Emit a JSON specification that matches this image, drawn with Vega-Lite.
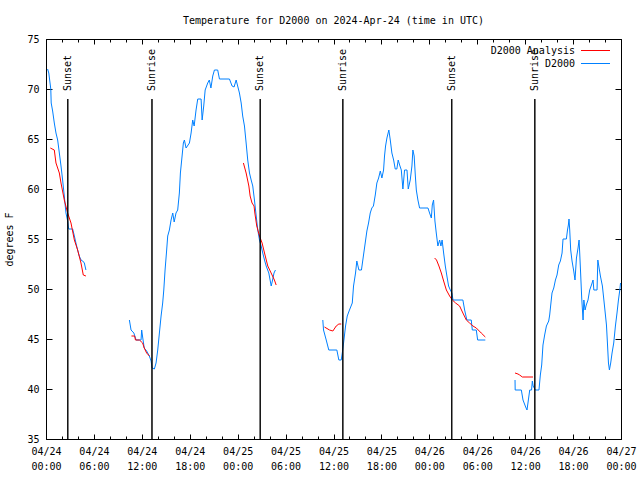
{
 "$schema": "https://vega.github.io/schema/vega-lite/v6.json",
 "width": 575, "height": 400,
 "autosize": {"type": "none"},
 "padding": {"left": 46, "top": 39, "right": 19, "bottom": 41},
 "background": "white",
 "title": {"text": "Temperature for D2000 on 2024-Apr-24 (time in UTC)", "font": "DejaVu Sans Mono", "fontSize": 10, "fontWeight": "normal", "offset": 8, "anchor": "middle", "color": "#000"},
 "config": {
  "view": {"stroke": "#000", "strokeWidth": 1},
  "font": "DejaVu Sans Mono",
  "axis": {"labelFont": "DejaVu Sans Mono", "labelFontSize": 10, "labelColor": "#000", "tickColor": "#000", "titleFont": "DejaVu Sans Mono", "titleFontSize": 10, "titleFontWeight": "normal", "titleColor": "#000", "domain": false, "grid": false, "labelFlush": false, "labelOverlap": false},
  "legend": {"labelFont": "DejaVu Sans Mono", "labelFontSize": 10, "labelColor": "#000"}
 },
 "datasets": {
  "sun": [
   {"hour": 2.73, "event": "Sunset"},
   {"hour": 13.27, "event": "Sunrise"},
   {"hour": 26.82, "event": "Sunset"},
   {"hour": 37.17, "event": "Sunrise"},
   {"hour": 50.81, "event": "Sunset"},
   {"hour": 61.21, "event": "Sunrise"}
  ],
  "temps": [
   {"hour": 0.2, "temp": 72.0, "series": "D2000", "seg": "b1"},
   {"hour": 0.35, "temp": 71.6, "series": "D2000", "seg": "b1"},
   {"hour": 0.6, "temp": 70.0, "series": "D2000", "seg": "b1"},
   {"hour": 0.65, "temp": 68.6, "series": "D2000", "seg": "b1"},
   {"hour": 0.83, "temp": 67.8, "series": "D2000", "seg": "b1"},
   {"hour": 1.04, "temp": 66.6, "series": "D2000", "seg": "b1"},
   {"hour": 1.25, "temp": 65.6, "series": "D2000", "seg": "b1"},
   {"hour": 1.46, "temp": 64.9, "series": "D2000", "seg": "b1"},
   {"hour": 1.67, "temp": 63.6, "series": "D2000", "seg": "b1"},
   {"hour": 1.88, "temp": 62.3, "series": "D2000", "seg": "b1"},
   {"hour": 2.08, "temp": 60.9, "series": "D2000", "seg": "b1"},
   {"hour": 2.29, "temp": 59.3, "series": "D2000", "seg": "b1"},
   {"hour": 2.5, "temp": 57.6, "series": "D2000", "seg": "b1"},
   {"hour": 2.71, "temp": 56.8, "series": "D2000", "seg": "b1"},
   {"hour": 2.84, "temp": 56.0, "series": "D2000", "seg": "b1"},
   {"hour": 3.34, "temp": 56.0, "series": "D2000", "seg": "b1"},
   {"hour": 3.55, "temp": 55.3, "series": "D2000", "seg": "b1"},
   {"hour": 3.75, "temp": 54.6, "series": "D2000", "seg": "b1"},
   {"hour": 3.96, "temp": 53.9, "series": "D2000", "seg": "b1"},
   {"hour": 4.17, "temp": 53.3, "series": "D2000", "seg": "b1"},
   {"hour": 4.38, "temp": 52.9, "series": "D2000", "seg": "b1"},
   {"hour": 4.6, "temp": 52.8, "series": "D2000", "seg": "b1"},
   {"hour": 4.8, "temp": 52.6, "series": "D2000", "seg": "b1"},
   {"hour": 5.0, "temp": 51.9, "series": "D2000", "seg": "b1"},
   {"hour": 0.54, "temp": 64.1, "series": "D2000 Analysis", "seg": "r1"},
   {"hour": 1.04, "temp": 63.9, "series": "D2000 Analysis", "seg": "r1"},
   {"hour": 1.25, "temp": 62.6, "series": "D2000 Analysis", "seg": "r1"},
   {"hour": 1.67, "temp": 61.6, "series": "D2000 Analysis", "seg": "r1"},
   {"hour": 1.88, "temp": 60.6, "series": "D2000 Analysis", "seg": "r1"},
   {"hour": 2.29, "temp": 58.9, "series": "D2000 Analysis", "seg": "r1"},
   {"hour": 2.71, "temp": 57.6, "series": "D2000 Analysis", "seg": "r1"},
   {"hour": 3.13, "temp": 56.6, "series": "D2000 Analysis", "seg": "r1"},
   {"hour": 3.55, "temp": 54.9, "series": "D2000 Analysis", "seg": "r1"},
   {"hour": 3.96, "temp": 53.9, "series": "D2000 Analysis", "seg": "r1"},
   {"hour": 4.38, "temp": 52.6, "series": "D2000 Analysis", "seg": "r1"},
   {"hour": 4.67, "temp": 51.4, "series": "D2000 Analysis", "seg": "r1"},
   {"hour": 5.0, "temp": 51.3, "series": "D2000 Analysis", "seg": "r1"},
   {"hour": 10.44, "temp": 46.9, "series": "D2000", "seg": "b2"},
   {"hour": 10.65, "temp": 45.9, "series": "D2000", "seg": "b2"},
   {"hour": 11.0, "temp": 45.6, "series": "D2000", "seg": "b2"},
   {"hour": 11.28, "temp": 44.9, "series": "D2000", "seg": "b2"},
   {"hour": 11.9, "temp": 44.9, "series": "D2000", "seg": "b2"},
   {"hour": 11.98, "temp": 45.9, "series": "D2000", "seg": "b2"},
   {"hour": 12.1, "temp": 45.2, "series": "D2000", "seg": "b2"},
   {"hour": 12.3, "temp": 44.1, "series": "D2000", "seg": "b2"},
   {"hour": 12.6, "temp": 43.8, "series": "D2000", "seg": "b2"},
   {"hour": 12.94, "temp": 43.3, "series": "D2000", "seg": "b2"},
   {"hour": 13.16, "temp": 42.8, "series": "D2000", "seg": "b2"},
   {"hour": 13.28, "temp": 42.1, "series": "D2000", "seg": "b2"},
   {"hour": 13.57, "temp": 42.0, "series": "D2000", "seg": "b2"},
   {"hour": 13.78, "temp": 42.6, "series": "D2000", "seg": "b2"},
   {"hour": 13.99, "temp": 43.9, "series": "D2000", "seg": "b2"},
   {"hour": 14.2, "temp": 45.6, "series": "D2000", "seg": "b2"},
   {"hour": 14.41, "temp": 47.3, "series": "D2000", "seg": "b2"},
   {"hour": 14.61, "temp": 48.6, "series": "D2000", "seg": "b2"},
   {"hour": 14.75, "temp": 49.9, "series": "D2000", "seg": "b2"},
   {"hour": 14.91, "temp": 51.9, "series": "D2000", "seg": "b2"},
   {"hour": 15.11, "temp": 53.9, "series": "D2000", "seg": "b2"},
   {"hour": 15.24, "temp": 55.3, "series": "D2000", "seg": "b2"},
   {"hour": 15.45, "temp": 55.9, "series": "D2000", "seg": "b2"},
   {"hour": 15.66, "temp": 56.9, "series": "D2000", "seg": "b2"},
   {"hour": 15.87, "temp": 57.6, "series": "D2000", "seg": "b2"},
   {"hour": 16.05, "temp": 56.7, "series": "D2000", "seg": "b2"},
   {"hour": 16.28, "temp": 57.6, "series": "D2000", "seg": "b2"},
   {"hour": 16.49, "temp": 57.9, "series": "D2000", "seg": "b2"},
   {"hour": 16.7, "temp": 59.6, "series": "D2000", "seg": "b2"},
   {"hour": 16.83, "temp": 61.6, "series": "D2000", "seg": "b2"},
   {"hour": 17.04, "temp": 63.3, "series": "D2000", "seg": "b2"},
   {"hour": 17.2, "temp": 64.6, "series": "D2000", "seg": "b2"},
   {"hour": 17.33, "temp": 64.9, "series": "D2000", "seg": "b2"},
   {"hour": 17.54, "temp": 64.1, "series": "D2000", "seg": "b2"},
   {"hour": 17.96, "temp": 64.6, "series": "D2000", "seg": "b2"},
   {"hour": 18.17, "temp": 65.6, "series": "D2000", "seg": "b2"},
   {"hour": 18.37, "temp": 66.9, "series": "D2000", "seg": "b2"},
   {"hour": 18.55, "temp": 66.3, "series": "D2000", "seg": "b2"},
   {"hour": 18.79, "temp": 67.9, "series": "D2000", "seg": "b2"},
   {"hour": 19.0, "temp": 69.0, "series": "D2000", "seg": "b2"},
   {"hour": 19.42, "temp": 69.0, "series": "D2000", "seg": "b2"},
   {"hour": 19.55, "temp": 66.9, "series": "D2000", "seg": "b2"},
   {"hour": 19.75, "temp": 68.3, "series": "D2000", "seg": "b2"},
   {"hour": 19.93, "temp": 69.9, "series": "D2000", "seg": "b2"},
   {"hour": 20.25, "temp": 70.6, "series": "D2000", "seg": "b2"},
   {"hour": 20.45, "temp": 70.9, "series": "D2000", "seg": "b2"},
   {"hour": 20.65, "temp": 70.1, "series": "D2000", "seg": "b2"},
   {"hour": 20.88, "temp": 71.3, "series": "D2000", "seg": "b2"},
   {"hour": 21.09, "temp": 71.9, "series": "D2000", "seg": "b2"},
   {"hour": 21.5, "temp": 71.9, "series": "D2000", "seg": "b2"},
   {"hour": 21.72, "temp": 71.0, "series": "D2000", "seg": "b2"},
   {"hour": 22.97, "temp": 71.0, "series": "D2000", "seg": "b2"},
   {"hour": 23.3, "temp": 70.3, "series": "D2000", "seg": "b2"},
   {"hour": 23.55, "temp": 70.2, "series": "D2000", "seg": "b2"},
   {"hour": 23.81, "temp": 70.9, "series": "D2000", "seg": "b2"},
   {"hour": 24.0, "temp": 70.3, "series": "D2000", "seg": "b2"},
   {"hour": 24.22, "temp": 69.6, "series": "D2000", "seg": "b2"},
   {"hour": 24.44, "temp": 68.6, "series": "D2000", "seg": "b2"},
   {"hour": 24.63, "temp": 67.3, "series": "D2000", "seg": "b2"},
   {"hour": 24.85, "temp": 66.3, "series": "D2000", "seg": "b2"},
   {"hour": 25.06, "temp": 64.6, "series": "D2000", "seg": "b2"},
   {"hour": 25.26, "temp": 62.9, "series": "D2000", "seg": "b2"},
   {"hour": 25.48, "temp": 61.6, "series": "D2000", "seg": "b2"},
   {"hour": 25.69, "temp": 60.9, "series": "D2000", "seg": "b2"},
   {"hour": 25.89, "temp": 60.3, "series": "D2000", "seg": "b2"},
   {"hour": 26.1, "temp": 58.9, "series": "D2000", "seg": "b2"},
   {"hour": 26.32, "temp": 57.3, "series": "D2000", "seg": "b2"},
   {"hour": 26.52, "temp": 55.9, "series": "D2000", "seg": "b2"},
   {"hour": 26.73, "temp": 54.9, "series": "D2000", "seg": "b2"},
   {"hour": 26.94, "temp": 54.3, "series": "D2000", "seg": "b2"},
   {"hour": 27.14, "temp": 53.6, "series": "D2000", "seg": "b2"},
   {"hour": 27.36, "temp": 52.9, "series": "D2000", "seg": "b2"},
   {"hour": 27.57, "temp": 52.3, "series": "D2000", "seg": "b2"},
   {"hour": 27.9, "temp": 51.6, "series": "D2000", "seg": "b2"},
   {"hour": 28.2, "temp": 50.3, "series": "D2000", "seg": "b2"},
   {"hour": 28.4, "temp": 51.0, "series": "D2000", "seg": "b2"},
   {"hour": 28.55, "temp": 51.6, "series": "D2000", "seg": "b2"},
   {"hour": 28.73, "temp": 51.9, "series": "D2000", "seg": "b2"},
   {"hour": 10.7, "temp": 45.3, "series": "D2000 Analysis", "seg": "r2"},
   {"hour": 11.1, "temp": 45.3, "series": "D2000 Analysis", "seg": "r2"},
   {"hour": 11.2, "temp": 44.9, "series": "D2000 Analysis", "seg": "r2"},
   {"hour": 11.7, "temp": 44.9, "series": "D2000 Analysis", "seg": "r2"},
   {"hour": 12.1, "temp": 44.6, "series": "D2000 Analysis", "seg": "r2"},
   {"hour": 12.3, "temp": 44.1, "series": "D2000 Analysis", "seg": "r2"},
   {"hour": 12.6, "temp": 43.6, "series": "D2000 Analysis", "seg": "r2"},
   {"hour": 12.95, "temp": 43.3, "series": "D2000 Analysis", "seg": "r2"},
   {"hour": 24.72, "temp": 62.6, "series": "D2000 Analysis", "seg": "r3"},
   {"hour": 25.06, "temp": 61.6, "series": "D2000 Analysis", "seg": "r3"},
   {"hour": 25.4, "temp": 60.3, "series": "D2000 Analysis", "seg": "r3"},
   {"hour": 25.56, "temp": 59.3, "series": "D2000 Analysis", "seg": "r3"},
   {"hour": 25.8, "temp": 58.6, "series": "D2000 Analysis", "seg": "r3"},
   {"hour": 26.05, "temp": 58.3, "series": "D2000 Analysis", "seg": "r3"},
   {"hour": 26.15, "temp": 57.6, "series": "D2000 Analysis", "seg": "r3"},
   {"hour": 26.39, "temp": 56.3, "series": "D2000 Analysis", "seg": "r3"},
   {"hour": 26.73, "temp": 55.3, "series": "D2000 Analysis", "seg": "r3"},
   {"hour": 27.06, "temp": 54.6, "series": "D2000 Analysis", "seg": "r3"},
   {"hour": 27.36, "temp": 53.6, "series": "D2000 Analysis", "seg": "r3"},
   {"hour": 27.77, "temp": 52.3, "series": "D2000 Analysis", "seg": "r3"},
   {"hour": 28.19, "temp": 51.6, "series": "D2000 Analysis", "seg": "r3"},
   {"hour": 28.6, "temp": 50.9, "series": "D2000 Analysis", "seg": "r3"},
   {"hour": 28.82, "temp": 50.4, "series": "D2000 Analysis", "seg": "r3"},
   {"hour": 34.66, "temp": 46.9, "series": "D2000", "seg": "b3"},
   {"hour": 34.75, "temp": 45.9, "series": "D2000", "seg": "b3"},
   {"hour": 35.09, "temp": 44.9, "series": "D2000", "seg": "b3"},
   {"hour": 35.41, "temp": 43.9, "series": "D2000", "seg": "b3"},
   {"hour": 36.42, "temp": 43.9, "series": "D2000", "seg": "b3"},
   {"hour": 36.67, "temp": 42.9, "series": "D2000", "seg": "b3"},
   {"hour": 36.97, "temp": 42.9, "series": "D2000", "seg": "b3"},
   {"hour": 37.1, "temp": 43.6, "series": "D2000", "seg": "b3"},
   {"hour": 37.26, "temp": 44.6, "series": "D2000", "seg": "b3"},
   {"hour": 37.51, "temp": 46.3, "series": "D2000", "seg": "b3"},
   {"hour": 37.72, "temp": 47.3, "series": "D2000", "seg": "b3"},
   {"hour": 38.0, "temp": 47.9, "series": "D2000", "seg": "b3"},
   {"hour": 38.35, "temp": 48.6, "series": "D2000", "seg": "b3"},
   {"hour": 38.51, "temp": 50.3, "series": "D2000", "seg": "b3"},
   {"hour": 38.76, "temp": 51.6, "series": "D2000", "seg": "b3"},
   {"hour": 38.92, "temp": 52.8, "series": "D2000", "seg": "b3"},
   {"hour": 39.18, "temp": 51.9, "series": "D2000", "seg": "b3"},
   {"hour": 39.5, "temp": 51.9, "series": "D2000", "seg": "b3"},
   {"hour": 39.76, "temp": 53.4, "series": "D2000", "seg": "b3"},
   {"hour": 39.97, "temp": 54.6, "series": "D2000", "seg": "b3"},
   {"hour": 40.18, "temp": 55.8, "series": "D2000", "seg": "b3"},
   {"hour": 40.39, "temp": 56.6, "series": "D2000", "seg": "b3"},
   {"hour": 40.6, "temp": 57.6, "series": "D2000", "seg": "b3"},
   {"hour": 40.8, "temp": 58.1, "series": "D2000", "seg": "b3"},
   {"hour": 41.0, "temp": 58.3, "series": "D2000", "seg": "b3"},
   {"hour": 41.23, "temp": 59.4, "series": "D2000", "seg": "b3"},
   {"hour": 41.43, "temp": 60.6, "series": "D2000", "seg": "b3"},
   {"hour": 41.65, "temp": 61.1, "series": "D2000", "seg": "b3"},
   {"hour": 41.86, "temp": 61.8, "series": "D2000", "seg": "b3"},
   {"hour": 42.06, "temp": 61.1, "series": "D2000", "seg": "b3"},
   {"hour": 42.27, "temp": 61.9, "series": "D2000", "seg": "b3"},
   {"hour": 42.39, "temp": 63.3, "series": "D2000", "seg": "b3"},
   {"hour": 42.52, "temp": 64.3, "series": "D2000", "seg": "b3"},
   {"hour": 42.69, "temp": 65.1, "series": "D2000", "seg": "b3"},
   {"hour": 42.93, "temp": 65.9, "series": "D2000", "seg": "b3"},
   {"hour": 43.11, "temp": 64.9, "series": "D2000", "seg": "b3"},
   {"hour": 43.31, "temp": 63.6, "series": "D2000", "seg": "b3"},
   {"hour": 43.53, "temp": 62.9, "series": "D2000", "seg": "b3"},
   {"hour": 43.73, "temp": 62.0, "series": "D2000", "seg": "b3"},
   {"hour": 43.93, "temp": 62.0, "series": "D2000", "seg": "b3"},
   {"hour": 44.1, "temp": 62.9, "series": "D2000", "seg": "b3"},
   {"hour": 44.28, "temp": 62.4, "series": "D2000", "seg": "b3"},
   {"hour": 44.49, "temp": 61.9, "series": "D2000", "seg": "b3"},
   {"hour": 44.69, "temp": 60.0, "series": "D2000", "seg": "b3"},
   {"hour": 44.9, "temp": 61.9, "series": "D2000", "seg": "b3"},
   {"hour": 45.2, "temp": 61.9, "series": "D2000", "seg": "b3"},
   {"hour": 45.36, "temp": 60.0, "series": "D2000", "seg": "b3"},
   {"hour": 45.61, "temp": 60.9, "series": "D2000", "seg": "b3"},
   {"hour": 45.82, "temp": 62.3, "series": "D2000", "seg": "b3"},
   {"hour": 45.94, "temp": 63.9, "series": "D2000", "seg": "b3"},
   {"hour": 46.1, "temp": 63.3, "series": "D2000", "seg": "b3"},
   {"hour": 46.25, "temp": 61.3, "series": "D2000", "seg": "b3"},
   {"hour": 46.37, "temp": 59.9, "series": "D2000", "seg": "b3"},
   {"hour": 46.57, "temp": 58.9, "series": "D2000", "seg": "b3"},
   {"hour": 46.78, "temp": 58.1, "series": "D2000", "seg": "b3"},
   {"hour": 47.83, "temp": 58.1, "series": "D2000", "seg": "b3"},
   {"hour": 48.03, "temp": 57.6, "series": "D2000", "seg": "b3"},
   {"hour": 48.25, "temp": 57.1, "series": "D2000", "seg": "b3"},
   {"hour": 48.37, "temp": 58.4, "series": "D2000", "seg": "b3"},
   {"hour": 48.53, "temp": 58.9, "series": "D2000", "seg": "b3"},
   {"hour": 48.7, "temp": 56.8, "series": "D2000", "seg": "b3"},
   {"hour": 48.87, "temp": 55.6, "series": "D2000", "seg": "b3"},
   {"hour": 49.07, "temp": 54.3, "series": "D2000", "seg": "b3"},
   {"hour": 49.29, "temp": 54.9, "series": "D2000", "seg": "b3"},
   {"hour": 49.45, "temp": 54.3, "series": "D2000", "seg": "b3"},
   {"hour": 49.6, "temp": 54.9, "series": "D2000", "seg": "b3"},
   {"hour": 49.79, "temp": 53.6, "series": "D2000", "seg": "b3"},
   {"hour": 50.0, "temp": 52.3, "series": "D2000", "seg": "b3"},
   {"hour": 50.2, "temp": 51.3, "series": "D2000", "seg": "b3"},
   {"hour": 50.41, "temp": 50.3, "series": "D2000", "seg": "b3"},
   {"hour": 50.63, "temp": 49.9, "series": "D2000", "seg": "b3"},
   {"hour": 50.83, "temp": 49.6, "series": "D2000", "seg": "b3"},
   {"hour": 50.96, "temp": 48.9, "series": "D2000", "seg": "b3"},
   {"hour": 52.2, "temp": 48.9, "series": "D2000", "seg": "b3"},
   {"hour": 52.42, "temp": 47.9, "series": "D2000", "seg": "b3"},
   {"hour": 52.7, "temp": 46.9, "series": "D2000", "seg": "b3"},
   {"hour": 53.25, "temp": 46.9, "series": "D2000", "seg": "b3"},
   {"hour": 53.38, "temp": 45.9, "series": "D2000", "seg": "b3"},
   {"hour": 53.88, "temp": 45.9, "series": "D2000", "seg": "b3"},
   {"hour": 54.05, "temp": 44.9, "series": "D2000", "seg": "b3"},
   {"hour": 55.01, "temp": 44.9, "series": "D2000", "seg": "b3"},
   {"hour": 34.87, "temp": 46.2, "series": "D2000 Analysis", "seg": "r4"},
   {"hour": 35.5, "temp": 45.9, "series": "D2000 Analysis", "seg": "r4"},
   {"hour": 35.92, "temp": 45.8, "series": "D2000 Analysis", "seg": "r4"},
   {"hour": 36.34, "temp": 46.3, "series": "D2000 Analysis", "seg": "r4"},
   {"hour": 36.67, "temp": 46.5, "series": "D2000 Analysis", "seg": "r4"},
   {"hour": 36.97, "temp": 46.5, "series": "D2000 Analysis", "seg": "r4"},
   {"hour": 48.66, "temp": 53.1, "series": "D2000 Analysis", "seg": "r5"},
   {"hour": 48.9, "temp": 52.9, "series": "D2000 Analysis", "seg": "r5"},
   {"hour": 49.2, "temp": 52.3, "series": "D2000 Analysis", "seg": "r5"},
   {"hour": 49.5, "temp": 51.6, "series": "D2000 Analysis", "seg": "r5"},
   {"hour": 49.79, "temp": 50.8, "series": "D2000 Analysis", "seg": "r5"},
   {"hour": 50.13, "temp": 49.9, "series": "D2000 Analysis", "seg": "r5"},
   {"hour": 50.54, "temp": 49.3, "series": "D2000 Analysis", "seg": "r5"},
   {"hour": 50.88, "temp": 48.9, "series": "D2000 Analysis", "seg": "r5"},
   {"hour": 51.29, "temp": 48.6, "series": "D2000 Analysis", "seg": "r5"},
   {"hour": 51.79, "temp": 48.3, "series": "D2000 Analysis", "seg": "r5"},
   {"hour": 52.2, "temp": 47.6, "series": "D2000 Analysis", "seg": "r5"},
   {"hour": 52.63, "temp": 46.9, "series": "D2000 Analysis", "seg": "r5"},
   {"hour": 53.04, "temp": 46.6, "series": "D2000 Analysis", "seg": "r5"},
   {"hour": 53.46, "temp": 46.3, "series": "D2000 Analysis", "seg": "r5"},
   {"hour": 53.88, "temp": 46.1, "series": "D2000 Analysis", "seg": "r5"},
   {"hour": 54.5, "temp": 45.6, "series": "D2000 Analysis", "seg": "r5"},
   {"hour": 55.01, "temp": 45.2, "series": "D2000 Analysis", "seg": "r5"},
   {"hour": 58.73, "temp": 40.9, "series": "D2000", "seg": "b4"},
   {"hour": 58.75, "temp": 39.9, "series": "D2000", "seg": "b4"},
   {"hour": 59.52, "temp": 39.9, "series": "D2000", "seg": "b4"},
   {"hour": 59.73, "temp": 38.9, "series": "D2000", "seg": "b4"},
   {"hour": 60.06, "temp": 38.2, "series": "D2000", "seg": "b4"},
   {"hour": 60.23, "temp": 37.9, "series": "D2000", "seg": "b4"},
   {"hour": 60.35, "temp": 38.6, "series": "D2000", "seg": "b4"},
   {"hour": 60.57, "temp": 39.9, "series": "D2000", "seg": "b4"},
   {"hour": 60.8, "temp": 39.9, "series": "D2000", "seg": "b4"},
   {"hour": 60.9, "temp": 40.8, "series": "D2000", "seg": "b4"},
   {"hour": 61.0, "temp": 40.3, "series": "D2000", "seg": "b4"},
   {"hour": 61.27, "temp": 39.9, "series": "D2000", "seg": "b4"},
   {"hour": 61.73, "temp": 39.9, "series": "D2000", "seg": "b4"},
   {"hour": 61.9, "temp": 41.4, "series": "D2000", "seg": "b4"},
   {"hour": 62.07, "temp": 42.4, "series": "D2000", "seg": "b4"},
   {"hour": 62.23, "temp": 44.4, "series": "D2000", "seg": "b4"},
   {"hour": 62.44, "temp": 45.4, "series": "D2000", "seg": "b4"},
   {"hour": 62.66, "temp": 46.3, "series": "D2000", "seg": "b4"},
   {"hour": 62.95, "temp": 46.8, "series": "D2000", "seg": "b4"},
   {"hour": 63.07, "temp": 47.4, "series": "D2000", "seg": "b4"},
   {"hour": 63.2, "temp": 48.4, "series": "D2000", "seg": "b4"},
   {"hour": 63.36, "temp": 49.6, "series": "D2000", "seg": "b4"},
   {"hour": 63.58, "temp": 50.1, "series": "D2000", "seg": "b4"},
   {"hour": 63.79, "temp": 50.9, "series": "D2000", "seg": "b4"},
   {"hour": 63.99, "temp": 51.4, "series": "D2000", "seg": "b4"},
   {"hour": 64.2, "temp": 52.4, "series": "D2000", "seg": "b4"},
   {"hour": 64.41, "temp": 52.8, "series": "D2000", "seg": "b4"},
   {"hour": 64.62, "temp": 53.6, "series": "D2000", "seg": "b4"},
   {"hour": 64.74, "temp": 55.0, "series": "D2000", "seg": "b4"},
   {"hour": 65.16, "temp": 55.0, "series": "D2000", "seg": "b4"},
   {"hour": 65.3, "temp": 55.9, "series": "D2000", "seg": "b4"},
   {"hour": 65.41, "temp": 56.4, "series": "D2000", "seg": "b4"},
   {"hour": 65.49, "temp": 57.0, "series": "D2000", "seg": "b4"},
   {"hour": 65.58, "temp": 55.9, "series": "D2000", "seg": "b4"},
   {"hour": 65.7, "temp": 53.9, "series": "D2000", "seg": "b4"},
   {"hour": 65.87, "temp": 52.8, "series": "D2000", "seg": "b4"},
   {"hour": 66.08, "temp": 51.8, "series": "D2000", "seg": "b4"},
   {"hour": 66.24, "temp": 50.9, "series": "D2000", "seg": "b4"},
   {"hour": 66.42, "temp": 53.1, "series": "D2000", "seg": "b4"},
   {"hour": 66.62, "temp": 54.1, "series": "D2000", "seg": "b4"},
   {"hour": 66.75, "temp": 54.9, "series": "D2000", "seg": "b4"},
   {"hour": 66.83, "temp": 53.6, "series": "D2000", "seg": "b4"},
   {"hour": 66.95, "temp": 51.5, "series": "D2000", "seg": "b4"},
   {"hour": 67.08, "temp": 49.1, "series": "D2000", "seg": "b4"},
   {"hour": 67.25, "temp": 46.9, "series": "D2000", "seg": "b4"},
   {"hour": 67.35, "temp": 48.9, "series": "D2000", "seg": "b4"},
   {"hour": 67.5, "temp": 47.9, "series": "D2000", "seg": "b4"},
   {"hour": 67.65, "temp": 48.4, "series": "D2000", "seg": "b4"},
   {"hour": 67.87, "temp": 48.9, "series": "D2000", "seg": "b4"},
   {"hour": 68.08, "temp": 49.9, "series": "D2000", "seg": "b4"},
   {"hour": 68.3, "temp": 50.4, "series": "D2000", "seg": "b4"},
   {"hour": 68.5, "temp": 50.9, "series": "D2000", "seg": "b4"},
   {"hour": 68.6, "temp": 49.9, "series": "D2000", "seg": "b4"},
   {"hour": 69.0, "temp": 49.9, "series": "D2000", "seg": "b4"},
   {"hour": 69.1, "temp": 52.9, "series": "D2000", "seg": "b4"},
   {"hour": 69.2, "temp": 52.4, "series": "D2000", "seg": "b4"},
   {"hour": 69.42, "temp": 51.3, "series": "D2000", "seg": "b4"},
   {"hour": 69.67, "temp": 50.3, "series": "D2000", "seg": "b4"},
   {"hour": 69.96, "temp": 48.1, "series": "D2000", "seg": "b4"},
   {"hour": 70.18, "temp": 46.4, "series": "D2000", "seg": "b4"},
   {"hour": 70.3, "temp": 44.6, "series": "D2000", "seg": "b4"},
   {"hour": 70.43, "temp": 42.6, "series": "D2000", "seg": "b4"},
   {"hour": 70.55, "temp": 41.9, "series": "D2000", "seg": "b4"},
   {"hour": 70.71, "temp": 42.6, "series": "D2000", "seg": "b4"},
   {"hour": 70.88, "temp": 43.6, "series": "D2000", "seg": "b4"},
   {"hour": 71.09, "temp": 44.6, "series": "D2000", "seg": "b4"},
   {"hour": 71.3, "temp": 46.3, "series": "D2000", "seg": "b4"},
   {"hour": 71.5, "temp": 47.6, "series": "D2000", "seg": "b4"},
   {"hour": 71.68, "temp": 48.9, "series": "D2000", "seg": "b4"},
   {"hour": 71.85, "temp": 49.9, "series": "D2000", "seg": "b4"},
   {"hour": 71.94, "temp": 50.6, "series": "D2000", "seg": "b4"},
   {"hour": 58.73, "temp": 41.6, "series": "D2000 Analysis", "seg": "r6"},
   {"hour": 59.1, "temp": 41.5, "series": "D2000 Analysis", "seg": "r6"},
   {"hour": 59.31, "temp": 41.4, "series": "D2000 Analysis", "seg": "r6"},
   {"hour": 59.65, "temp": 41.2, "series": "D2000 Analysis", "seg": "r6"},
   {"hour": 60.98, "temp": 41.2, "series": "D2000 Analysis", "seg": "r6"}
  ]
 },
 "layer": [
  {
   "data": {"name": "temps"},
   "mark": {"type": "line", "strokeWidth": 1, "interpolate": "linear"},
   "encoding": {
    "x": {"field": "hour", "type": "quantitative", "scale": {"domain": [0, 72], "nice": false, "zero": false},
          "axis": {"orient": "bottom", "values": [0, 6, 12, 18, 24, 30, 36, 42, 48, 54, 60, 66, 72], "tickSize": -5, "labelPadding": 12, "labelBaseline": "top", "labelLineHeight": 15, "title": null,
                   "labelExpr": "['04/' + (24 + floor(datum.value / 24)), ((datum.value % 24) < 10 ? '0' : '') + (datum.value % 24) + ':00']"}},
    "y": {"field": "temp", "type": "quantitative", "scale": {"domain": [35, 75], "nice": false, "zero": false},
          "axis": {"orient": "left", "values": [35, 40, 45, 50, 55, 60, 65, 70, 75], "tickSize": -6, "labelPadding": 13, "title": "degrees F", "titlePadding": 12}},
    "color": {"field": "series", "type": "nominal", "scale": {"domain": ["D2000 Analysis", "D2000"], "range": ["#ff0000", "#0080ff"]},
              "legend": {"orient": "none", "legendX": 544, "legendY": 6, "title": null, "padding": 0, "symbolType": "M-2.9,0H2.9", "symbolSize": 100, "symbolStrokeWidth": 1, "labelAlign": "right", "labelOffset": -26, "rowPadding": 2}},
    "detail": {"field": "seg", "type": "nominal"}
   }
  },
  {
   "data": {"name": "sun"},
   "mark": {"type": "rule", "color": "#000", "strokeWidth": 1},
   "encoding": {
    "x": {"field": "hour", "type": "quantitative",
          "axis": {"orient": "bottom", "values": [0, 2, 4, 6, 8, 10, 12, 14, 16, 18, 20, 22, 24, 26, 28, 30, 32, 34, 36, 38, 40, 42, 44, 46, 48, 50, 52, 54, 56, 58, 60, 62, 64, 66, 68, 70, 72], "tickSize": -3, "labels": false, "title": null}},
    "y": {"datum": 69, "type": "quantitative",
          "axis": {"orient": "right", "values": [35, 40, 45, 50, 55, 60, 65, 70, 75], "tickSize": -6, "labels": false, "title": null}},
    "y2": {"datum": 35}
   }
  },
  {
   "data": {"name": "sun"},
   "mark": {"type": "text", "angle": 270, "align": "left", "baseline": "middle", "font": "DejaVu Sans Mono", "fontSize": 10, "color": "#000"},
   "encoding": {
    "x": {"field": "hour", "type": "quantitative",
          "axis": {"orient": "top", "values": [0, 6, 12, 18, 24, 30, 36, 42, 48, 54, 60, 66, 72], "tickSize": -5, "labels": false, "title": null}},
    "y": {"datum": 69.8, "type": "quantitative", "axis": null},
    "text": {"field": "event"}
   }
  },
  {
   "data": {"name": "sun"},
   "mark": {"type": "rule", "color": "#000", "strokeWidth": 1},
   "encoding": {
    "x": {"field": "hour", "type": "quantitative",
          "axis": {"orient": "top", "values": [0, 2, 4, 6, 8, 10, 12, 14, 16, 18, 20, 22, 24, 26, 28, 30, 32, 34, 36, 38, 40, 42, 44, 46, 48, 50, 52, 54, 56, 58, 60, 62, 64, 66, 68, 70, 72], "tickSize": -3, "labels": false, "title": null}},
    "y": {"datum": 69, "type": "quantitative", "axis": null},
    "y2": {"datum": 35}
   }
  }
 ],
 "resolve": {"axis": {"x": "independent", "y": "independent"}}
}
